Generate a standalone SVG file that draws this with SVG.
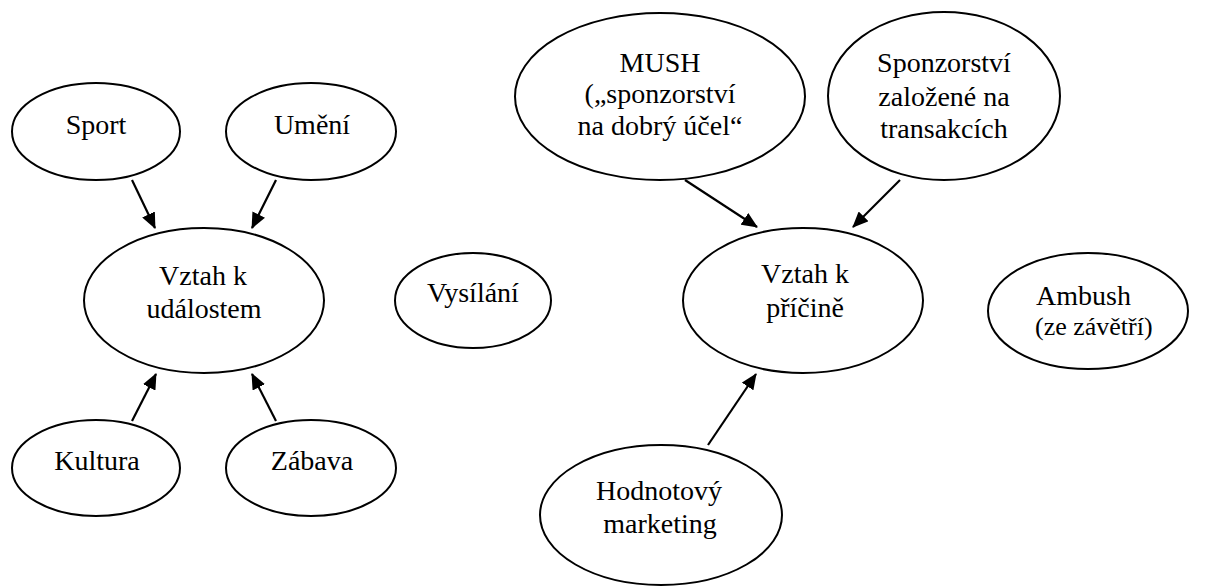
<svg xmlns="http://www.w3.org/2000/svg" width="1208" height="587" viewBox="0 0 1208 587">
<style>
.n ellipse{fill:#fff;stroke:#000;stroke-width:2}
.t{font-family:'Liberation Serif','Times New Roman',Tinos,'Noto Serif','DejaVu Serif',serif;font-size:28px;fill:#000;text-anchor:middle}
.c line{stroke:#000;stroke-width:2.2;marker-end:url(#ah)}
</style>
<defs>
<marker id="ah" markerUnits="userSpaceOnUse" viewBox="0 0 16 14" refX="15" refY="7" markerWidth="16" markerHeight="14" orient="auto">
<path d="M0,0 L16,7 L0,14 z" fill="#000"/>
</marker>
</defs>
<rect width="1208" height="587" fill="#fff"/>
<g class="c" id="connectors">
<line x1="132" y1="180" x2="155" y2="228"/>
<line x1="276" y1="180" x2="252" y2="228"/>
<line x1="132" y1="421" x2="156" y2="374"/>
<line x1="276" y1="421" x2="252" y2="374"/>
<line x1="685" y1="180" x2="757" y2="227"/>
<line x1="900" y1="180" x2="853" y2="227"/>
<line x1="708" y1="445" x2="756" y2="374"/>
</g>
<g class="n" id="sport"><ellipse cx="96" cy="131.5" rx="84" ry="48.5"/><text class="t" x="96" y="134">Sport</text></g>
<g class="n" id="umeni"><ellipse cx="311" cy="131.5" rx="85" ry="48.5"/><text class="t" x="312" y="134">Umění</text></g>
<g class="n" id="vztah-udalosti"><ellipse cx="204" cy="300.5" rx="120" ry="72.5"/><text class="t" x="203" y="285">Vztah k</text><text class="t" x="204" y="318">událostem</text></g>
<g class="n" id="kultura"><ellipse cx="96" cy="468" rx="84" ry="48"/><text class="t" x="97" y="470">Kultura</text></g>
<g class="n" id="zabava"><ellipse cx="311" cy="468" rx="85" ry="48"/><text class="t" x="312" y="470">Zábava</text></g>
<g class="n" id="vysilani"><ellipse cx="473" cy="300.5" rx="78" ry="47.5"/><text class="t" x="473" y="302">Vysílání</text></g>
<g class="n" id="mush"><ellipse cx="660" cy="96.5" rx="145" ry="83.5"/><text class="t" x="660" y="72">MUSH</text><text class="t" x="660" y="103">(„sponzorství</text><text class="t" x="660" y="135">na dobrý účel“</text></g>
<g class="n" id="sponzorstvi"><ellipse cx="944" cy="96" rx="116" ry="84"/><text class="t" x="944" y="72">Sponzorství</text><text class="t" x="944" y="106">založené na</text><text class="t" x="944" y="138">transakcích</text></g>
<g class="n" id="vztah-pricine"><ellipse cx="803" cy="300.5" rx="120" ry="72.5"/><text class="t" x="805" y="283">Vztah k</text><text class="t" x="805" y="317">příčině</text></g>
<g class="n" id="ambush"><ellipse cx="1088" cy="311" rx="100" ry="58"/><text class="t" x="1036" y="305" style="text-anchor:start">Ambush</text><text class="t" x="1035" y="335" style="text-anchor:start;font-size:26px">(ze závětří)</text></g>
<g class="n" id="hodnotovy"><ellipse cx="661" cy="515" rx="121" ry="70"/><text class="t" x="659" y="500">Hodnotový</text><text class="t" x="660" y="533">marketing</text></g>
</svg>
